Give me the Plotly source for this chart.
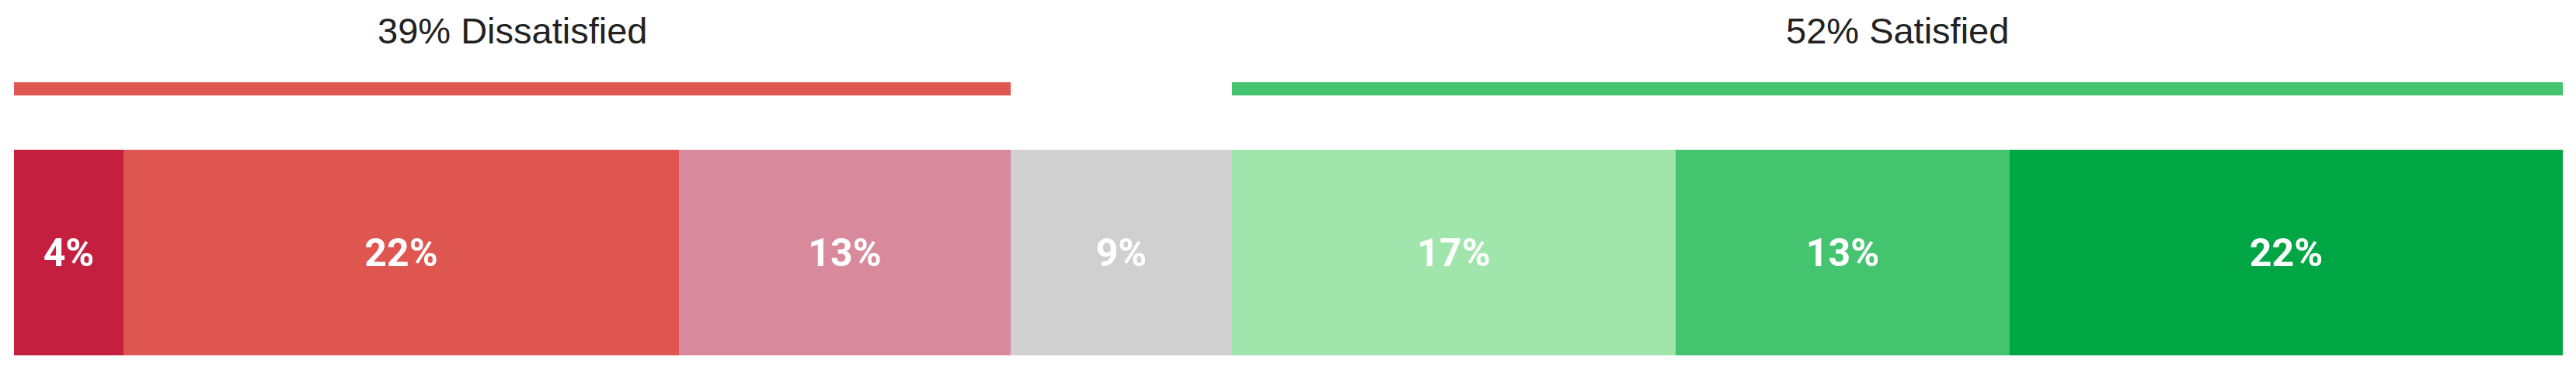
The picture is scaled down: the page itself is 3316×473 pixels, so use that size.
import plotly.graph_objects as go

# satisfaction shares (percent of respondents)
categories = [
    "Very dissatisfied",
    "Dissatisfied",
    "Somewhat dissatisfied",
    "Neutral",
    "Somewhat satisfied",
    "Satisfied",
    "Very satisfied",
]
shares = [4.3, 21.8, 13.0, 8.7, 17.4, 13.1, 21.7]
share_labels = ["4%", "22%", "13%", "9%", "17%", "13%", "22%"]
colors = ["#C41F3E", "#DF5550", "#D88A9C", "#D0D0D0", "#A0E5AC", "#45C470", "#00A643"]

groups = ["Dissatisfied", "Satisfied"]
group_members = [[0, 1, 2], [4, 5, 6]]
group_colors = ["#DF5550", "#45C470"]

TITLE_FONT = "Liberation Sans, Arial, sans-serif"
LABEL_FONT = "Roboto, Liberation Sans, Arial, sans-serif"
BAR_Y = 0
LINE_Y = 0.796
TITLE_Y = 1.079

fig = go.Figure()

for name, value, label, color in zip(categories, shares, share_labels, colors):
    fig.add_trace(
        go.Bar(
            y=[BAR_Y],
            x=[value],
            orientation="h",
            width=1,
            name=name,
            text=[label],
            textposition="inside",
            insidetextanchor="middle",
            textfont=dict(family=LABEL_FONT, size=50, color="white", weight="bold"),
            marker=dict(color=color, line=dict(width=0)),
            hoverinfo="name+x",
        )
    )

# group summary bars drawn above the main stack
for group, members, color in zip(groups, group_members, group_colors):
    start = sum(shares[: members[0]])
    total = sum(shares[i] for i in members)
    fig.add_trace(
        go.Bar(
            y=[LINE_Y],
            x=[total],
            base=[start],
            orientation="h",
            width=0.064,
            marker=dict(color=color, line=dict(width=0)),
            showlegend=False,
            hoverinfo="skip",
        )
    )
    fig.add_annotation(
        x=start + total / 2,
        y=TITLE_Y,
        text=f"{round(total)}% {group}",
        showarrow=False,
        xanchor="center",
        yanchor="middle",
        font=dict(family=TITLE_FONT, size=47, color="#222222"),
    )

# page body keeps its default 8px margin, so the figure is a little smaller than the window
fig.update_layout(
    barmode="stack",
    width=3300,
    height=465,
    margin=dict(l=10, r=9, t=0, b=0),
    paper_bgcolor="white",
    plot_bgcolor="white",
    showlegend=False,
    bargap=0,
    xaxis=dict(range=[0, 100], visible=False, fixedrange=True),
    yaxis=dict(range=[-0.557, 1.198], visible=False, fixedrange=True),
)

fig.write_html("out.html")
